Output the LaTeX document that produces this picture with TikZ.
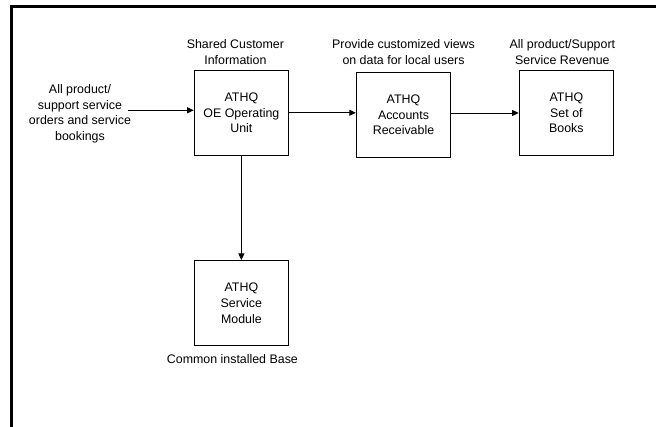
\documentclass[tikz,border=0pt]{standalone}
\usepackage{fontspec}
\setmainfont{Liberation Sans}
\usetikzlibrary{arrows.meta,positioning}

\begin{document}
\begin{tikzpicture}[
  x=1pt, y=-1pt,
  font=\fontsize{12.4}{15.6}\selectfont,
  sys/.style={draw=black, line width=0.9pt, minimum width=94.5pt, minimum height=85.5pt,
              align=center, inner sep=0pt},
  note/.style={align=center, inner sep=0pt},
  a/.style={-{Triangle[length=6.5pt,width=6pt]}, line width=0.9pt}
]
\useasboundingbox (0,0) rectangle (656,427);
\draw[line width=2.6pt] (11.7,427) -- (11.7,6.3) -- (656,6.3);

\node[sys] (oe)  at (241.4,112.8) {ATHQ\\OE Operating\\Unit};
\node[sys] (ar)  at (403.5,115)   {ATHQ\\Accounts\\Receivable};
\node[sys] (bk)  at (566.4,113)   {ATHQ\\Set of\\Books};
\node[sys] (svc) at (241.4,303.2) {ATHQ\\Service\\Module};

\node[note, above=5pt of oe, xshift=-6pt] (oe-lbl) {Shared Customer\\Information};
\node[note, above=7pt of ar] (ar-lbl) {Provide customized views\\on data for local users};
\node[note, above=5pt of bk, xshift=-4pt] (bk-lbl) {All product/Support\\Service Revenue};
\node[note, below=8pt of svc, xshift=-9pt] (svc-lbl) {Common installed Base};
\node[note] (src) at (80,113.8) {All product/\\support service\\orders and service\\bookings};

\coordinate (in) at (128,110.3);
\draw[a] (in) -- (in -| oe.west);
\draw[a] (oe.east) -- (oe.east -| ar.west);
\draw[a] (bk.west -| ar.east) -- (bk.west);
\draw[a] (oe.south) -- (svc.north);
\end{tikzpicture}
\end{document}
